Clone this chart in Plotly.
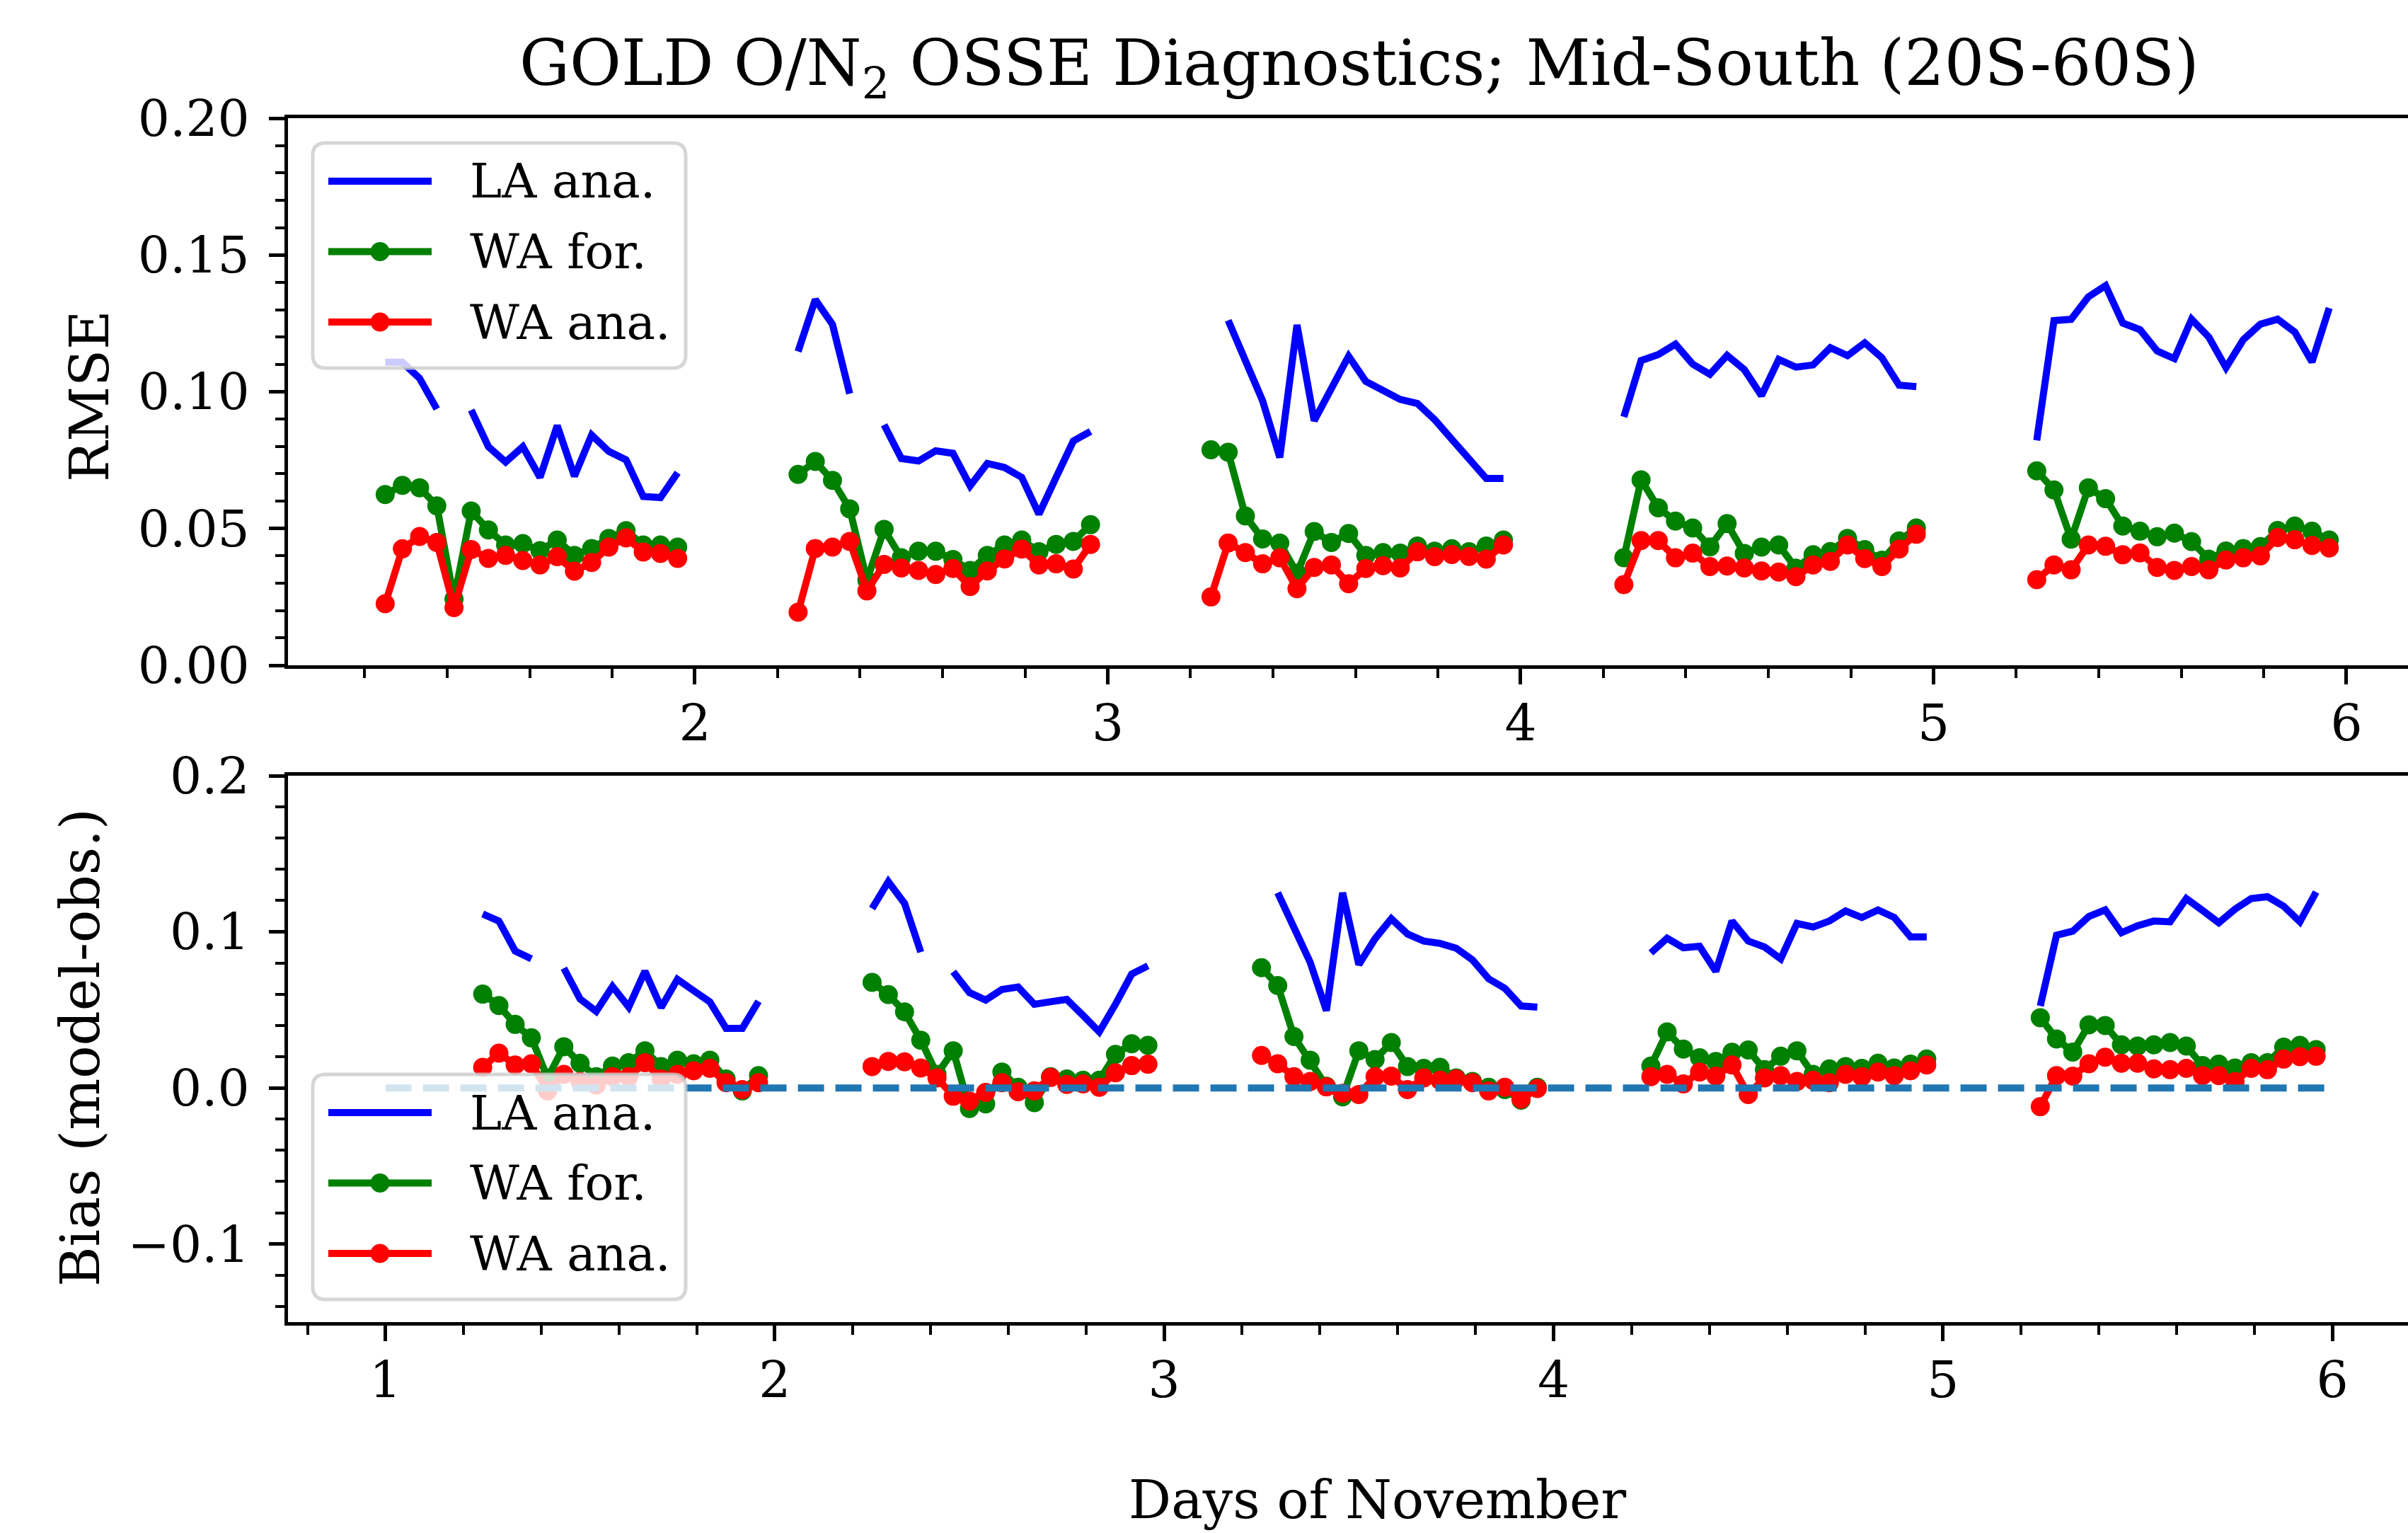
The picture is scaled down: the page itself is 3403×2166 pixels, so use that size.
import plotly.graph_objects as go

# ---------------- data ----------------
DAYS = [1, 2, 3, 4, 5]
HOURS = [6, 7, 8, 9, 10, 11, 12, 13, 14, 15, 16, 17, 18, 19, 20, 21, 22, 23]

RMSE_LA = [
    [0.1108, 0.1108, 0.1049, 0.0937, None, 0.0933, 0.0799, 0.0743, 0.0799, 0.0687, 0.0876, 0.0691, 0.0842, 0.0782, 0.0751, 0.0617, 0.0613, 0.0704],
    [0.1147, 0.1337, 0.1246, 0.0993, None, 0.0879, 0.0756, 0.0747, 0.0784, 0.0775, 0.0656, 0.0738, 0.0723, 0.0687, 0.0553, 0.0687, 0.0820, 0.0855],
    [None, 0.1261, 0.1114, 0.0967, 0.0760, 0.1244, 0.0894, 0.1019, 0.1130, 0.1038, 0.1006, 0.0972, 0.0957, 0.0898, 0.0826, 0.0756, 0.0683, 0.0683],
    [0.0908, 0.1114, 0.1136, 0.1174, 0.1101, 0.1064, 0.1133, 0.1081, 0.0986, 0.1118, 0.1090, 0.1098, 0.1161, 0.1132, 0.1179, 0.1124, 0.1024, 0.1019],
    [0.0822, 0.1260, 0.1265, 0.1347, 0.1388, 0.1251, 0.1227, 0.1149, 0.1121, 0.1265, 0.1200, 0.1088, 0.1190, 0.1247, 0.1265, 0.1218, 0.1109, 0.1306],
]
RMSE_WA_FOR = [
    [0.0624, 0.0658, 0.0649, 0.0583, 0.0242, 0.0564, 0.0495, 0.0440, 0.0445, 0.0419, 0.0458, 0.0402, 0.0427, 0.0464, 0.0492, 0.0440, 0.0440, 0.0432],
    [0.0698, 0.0745, 0.0676, 0.0572, 0.0311, 0.0497, 0.0393, 0.0417, 0.0417, 0.0387, 0.0347, 0.0402, 0.0440, 0.0458, 0.0415, 0.0442, 0.0453, 0.0514],
    [0.0788, 0.0779, 0.0546, 0.0462, 0.0447, 0.0337, 0.0489, 0.0449, 0.0482, 0.0402, 0.0412, 0.0410, 0.0436, 0.0417, 0.0426, 0.0415, 0.0436, 0.0458],
    [0.0393, 0.0678, 0.0576, 0.0527, 0.0502, 0.0433, 0.0518, 0.0409, 0.0432, 0.0440, 0.0355, 0.0404, 0.0416, 0.0464, 0.0423, 0.0384, 0.0455, 0.0502],
    [0.0711, 0.0641, 0.0461, 0.0649, 0.0609, 0.0509, 0.0490, 0.0470, 0.0483, 0.0452, 0.0388, 0.0418, 0.0427, 0.0434, 0.0493, 0.0509, 0.0490, 0.0458],
]
RMSE_WA_ANA = [
    [0.0225, 0.0426, 0.0471, 0.0449, 0.0211, 0.0423, 0.0391, 0.0402, 0.0383, 0.0367, 0.0397, 0.0344, 0.0376, 0.0432, 0.0466, 0.0414, 0.0409, 0.0391],
    [0.0194, 0.0427, 0.0432, 0.0453, 0.0272, 0.0369, 0.0356, 0.0347, 0.0332, 0.0354, 0.0288, 0.0345, 0.0389, 0.0425, 0.0367, 0.0371, 0.0352, 0.0442],
    [0.0250, 0.0447, 0.0412, 0.0371, 0.0393, 0.0280, 0.0358, 0.0367, 0.0298, 0.0354, 0.0364, 0.0356, 0.0415, 0.0397, 0.0405, 0.0398, 0.0388, 0.0440],
    [0.0295, 0.0456, 0.0456, 0.0393, 0.0410, 0.0361, 0.0363, 0.0356, 0.0345, 0.0341, 0.0324, 0.0367, 0.0380, 0.0440, 0.0390, 0.0361, 0.0425, 0.0479],
    [0.0313, 0.0367, 0.0349, 0.0440, 0.0435, 0.0404, 0.0411, 0.0358, 0.0347, 0.0361, 0.0349, 0.0385, 0.0393, 0.0400, 0.0467, 0.0459, 0.0438, 0.0429],
]

BIAS_LA = [
    [0.1114, 0.1069, 0.0877, 0.0827, None, 0.0767, 0.0570, 0.0490, 0.0650, 0.0518, 0.0747, 0.0515, 0.0696, 0.0623, 0.0551, 0.0382, 0.0382, 0.0555],
    [0.1149, 0.1321, 0.1182, 0.0870, None, 0.0744, 0.0611, 0.0563, 0.0631, 0.0646, 0.0536, 0.0552, 0.0567, 0.0465, 0.0359, 0.0536, 0.0729, 0.0782],
    [None, 0.1250, 0.1024, 0.0805, 0.0495, 0.1250, 0.0790, 0.0956, 0.1084, 0.0986, 0.0941, 0.0926, 0.0895, 0.0820, 0.0699, 0.0638, 0.0525, 0.0518],
    [0.0865, 0.0959, 0.0898, 0.0907, 0.0747, 0.1069, 0.0941, 0.0903, 0.0827, 0.1054, 0.1031, 0.1069, 0.1134, 0.1092, 0.1140, 0.1092, 0.0968, 0.0968],
    [0.0525, 0.0978, 0.1004, 0.1099, 0.1140, 0.0994, 0.1039, 0.1069, 0.1064, 0.1213, 0.1137, 0.1058, 0.1145, 0.1213, 0.1225, 0.1164, 0.1064, 0.1255],
]
BIAS_WA_FOR = [
    [0.0601, 0.0528, 0.0407, 0.0321, 0.0064, 0.0264, 0.0158, 0.0072, 0.0140, 0.0162, 0.0238, 0.0137, 0.0178, 0.0155, 0.0178, 0.0057, -0.0019, 0.0079],
    [0.0676, 0.0598, 0.0487, 0.0306, 0.0087, 0.0238, -0.0132, -0.0102, 0.0102, 0.0004, -0.0094, 0.0072, 0.0057, 0.0049, 0.0049, 0.0215, 0.0283, 0.0273],
    [0.0770, 0.0656, 0.0329, 0.0178, 0.0011, -0.0057, 0.0238, 0.0182, 0.0291, 0.0137, 0.0125, 0.0132, 0.0064, 0.0042, 0.0004, -0.0011, -0.0079, 0.0004],
    [0.0140, 0.0359, 0.0249, 0.0193, 0.0170, 0.0228, 0.0243, 0.0117, 0.0203, 0.0238, 0.0087, 0.0122, 0.0137, 0.0125, 0.0158, 0.0128, 0.0152, 0.0185],
    [0.0450, 0.0314, 0.0230, 0.0404, 0.0400, 0.0276, 0.0268, 0.0276, 0.0291, 0.0268, 0.0143, 0.0152, 0.0128, 0.0162, 0.0162, 0.0261, 0.0273, 0.0246],
]
BIAS_WA_ANA = [
    [0.0132, 0.0223, 0.0147, 0.0155, -0.0019, 0.0087, 0.0042, 0.0019, 0.0072, 0.0072, 0.0162, 0.0057, 0.0087, 0.0110, 0.0125, 0.0034, -0.0011, 0.0034],
    [0.0137, 0.0170, 0.0167, 0.0128, 0.0064, -0.0053, -0.0084, -0.0029, 0.0034, -0.0024, -0.0019, 0.0067, 0.0022, 0.0026, 0.0004, 0.0097, 0.0143, 0.0152],
    [0.0208, 0.0155, 0.0072, 0.0042, 0.0007, -0.0034, -0.0042, 0.0072, 0.0076, -0.0011, 0.0064, 0.0049, 0.0057, 0.0034, -0.0019, 0.0004, -0.0072, -0.0004],
    [0.0072, 0.0087, 0.0026, 0.0102, 0.0076, 0.0147, -0.0042, 0.0064, 0.0079, 0.0042, 0.0049, 0.0034, 0.0087, 0.0072, 0.0102, 0.0079, 0.0110, 0.0147],
    [-0.0120, 0.0079, 0.0076, 0.0155, 0.0197, 0.0158, 0.0158, 0.0122, 0.0117, 0.0125, 0.0079, 0.0079, 0.0042, 0.0125, 0.0117, 0.0185, 0.0200, 0.0203],
]

ZERO_X = [1, 6]
ZERO_Y = [0, 0]

SERIES_NAMES = ["LA ana.", "WA for.", "WA ana."]
SERIES_COLORS = ["#0000ff", "#008000", "#ff0000"]

TITLE = "GOLD O/N<sub>2</sub> OSSE Diagnostics; Mid-South (20S-60S)"
XLABEL = "Days of November"
YLABEL_TOP = "RMSE"
YLABEL_BOT = "Bias (model-obs.)"

# ---------------- layout helpers ----------------
FW, FH = 3403, 2166
L = 407
W = FW - L
FONT = "DejaVu Serif"
LW = 10
MS = 27


def px(x):
    return (x - L) / W


def py(y):
    return (FH - y) / FH


def build(day_lists):
    xs, ys = [], []
    for d, vals in zip(DAYS, day_lists):
        for h, v in zip(HOURS, vals):
            xs.append(d + h / 24)
            ys.append(v)
        xs.append(None)
        ys.append(None)
    return xs, ys


fig = go.Figure()

panels = [
    ("x", "y", [RMSE_LA, RMSE_WA_FOR, RMSE_WA_ANA]),
    ("x2", "y2", [BIAS_LA, BIAS_WA_FOR, BIAS_WA_ANA]),
]
for xa, ya, data in panels:
    for i, (name, col, dl) in enumerate(zip(SERIES_NAMES, SERIES_COLORS, data)):
        xs, ys = build(dl)
        if i == 0:
            fig.add_trace(go.Scatter(x=xs, y=ys, mode="lines", name=name,
                                     line=dict(color=col, width=LW),
                                     xaxis=xa, yaxis=ya, showlegend=False))
        else:
            fig.add_trace(go.Scatter(x=xs, y=ys, mode="lines+markers", name=name,
                                     line=dict(color=col, width=LW),
                                     marker=dict(color=col, size=MS),
                                     xaxis=xa, yaxis=ya, showlegend=False))

fig.add_trace(go.Scatter(x=ZERO_X, y=ZERO_Y, mode="lines",
                         line=dict(color="#1f77b4", width=LW, dash="37px,16px"),
                         xaxis="x2", yaxis="y2", showlegend=False))

tickfont = dict(family=FONT, size=71, color="black")
axis_common = dict(showgrid=False, zeroline=False, showline=True, linecolor="black",
                   linewidth=5, ticks="outside", ticklen=22, tickwidth=5,
                   tickcolor="black", tickfont=tickfont, automargin=False)

TOP_Y = (py(940), py(167))
BOT_Y = (py(1868), py(1096))

minor_x = dict(dtick=0.2, tick0=0, ticks="outside", ticklen=13, tickwidth=4,
               tickcolor="black", showgrid=False)

fig.update_layout(
    template="none",
    width=FW, height=FH,
    margin=dict(l=L, r=0, t=0, b=0, pad=0, autoexpand=False),
    plot_bgcolor="white", paper_bgcolor="white",
    showlegend=False,
    xaxis=dict(axis_common, domain=[0, 1], anchor="y", range=[1.0146, 1.0146 + W / 583.5],
               dtick=1, tick0=0, mirror=True, ticklabelstandoff=-6, minor=minor_x),
    yaxis=dict(axis_common, domain=list(TOP_Y), anchor="x", range=[0, 0.2],
               dtick=0.05, tick0=0, tickformat=".2f", ticklabelstandoff=13,
               minor=dict(dtick=0.01, tick0=0, ticks="outside", ticklen=13, tickwidth=4,
                          tickcolor="black", showgrid=False)),
    xaxis2=dict(axis_common, domain=[0, 1], anchor="y2", range=[0.75, 0.75 + W / 550.3],
                dtick=1, tick0=0, mirror=True, ticklabelstandoff=-6, minor=minor_x),
    yaxis2=dict(axis_common, domain=list(BOT_Y), anchor="x2", range=[-0.15, 0.2],
                dtick=0.1, tick0=0, tickformat=".1f", ticklabelstandoff=13,
                minor=dict(dtick=0.02, tick0=0, ticks="outside", ticklen=13, tickwidth=4,
                           tickcolor="black", showgrid=False)),
)

annotations = []
shapes = []


def ann(text, x, y, size, angle=0, xanchor="center", yanchor="middle"):
    annotations.append(dict(text=text, x=px(x), y=py(y), xref="paper", yref="paper",
                            showarrow=False, textangle=angle, xanchor=xanchor,
                            yanchor=yanchor, font=dict(family=FONT, size=size, color="black")))


ann(TITLE, 1921, 95, 89)
ann(XLABEL, 1947, 2119, 75)
ann(YLABEL_TOP, 126, 560, 76, angle=-90)
ann(YLABEL_BOT, 113, 1480, 77, angle=-90)


def rounded_box(x0, y0, x1, y1, r):
    def P(x, y):
        return f"{px(x):.6f},{py(y):.6f}"
    return (f"M {P(x0 + r, y0)} L {P(x1 - r, y0)} Q {P(x1, y0)} {P(x1, y0 + r)} "
            f"L {P(x1, y1 - r)} Q {P(x1, y1)} {P(x1 - r, y1)} "
            f"L {P(x0 + r, y1)} Q {P(x0, y1)} {P(x0, y1 - r)} "
            f"L {P(x0, y0 + r)} Q {P(x0, y0)} {P(x0 + r, y0)} Z")


def legend(top):
    box = (442, top, 969, top + 318)
    shapes.append(dict(type="path", path=rounded_box(*box, 18), xref="paper", yref="paper",
                       fillcolor="rgba(255,255,255,0.8)",
                       line=dict(color="rgba(204,204,204,0.8)", width=5), layer="above"))
    for i, (name, col) in enumerate(zip(SERIES_NAMES, SERIES_COLORS)):
        ry = top + 54 + i * 99.5
        shapes.append(dict(type="line", x0=px(464), x1=px(610), y0=py(ry), y1=py(ry),
                           xref="paper", yref="paper", line=dict(color=col, width=LW),
                           layer="above"))
        if i > 0:
            r = MS / 2
            cx = 537
            shapes.append(dict(type="circle", x0=px(cx - r), x1=px(cx + r),
                               y0=py(ry + r), y1=py(ry - r), xref="paper", yref="paper",
                               fillcolor=col, line=dict(width=0), layer="above"))
        ann(name, 662, ry, 68, xanchor="left")


legend(202)
legend(1518)

fig.update_layout(annotations=annotations, shapes=shapes)
fig.write_html("out.html")
